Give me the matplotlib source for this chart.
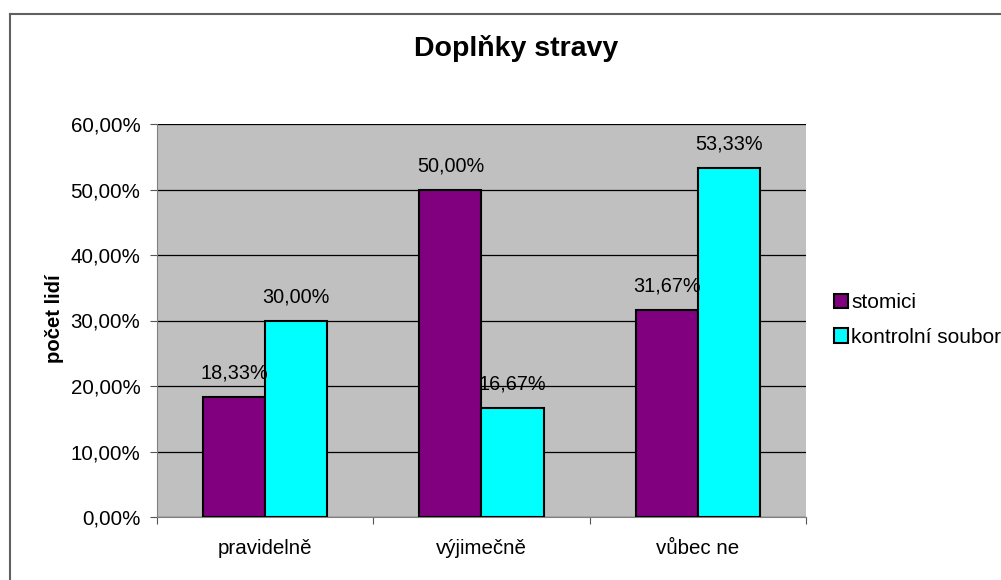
import matplotlib.pyplot as plt
import numpy as np
from matplotlib.patches import Patch
from matplotlib.lines import Line2D

# data
categories = ['pravidelně', 'výjimečně', 'vůbec ne']
stomici = [18.33, 50.00, 31.67]
kontrolni = [30.00, 16.67, 53.33]
series_names = ['stomici', 'kontrolní soubor']
colors = ['#800080', '#00FFFF']

plt.rcParams['font.family'] = ['Liberation Sans', 'DejaVu Sans']
FS = 14.8

fig = plt.figure(figsize=(10.01, 5.8), dpi=100)
ax = fig.add_axes([157 / 1001, 63 / 580, 649 / 1001, 393 / 580])
ax.set_facecolor('#C0C0C0')

x = np.arange(len(categories))
w = 0.287
b1 = ax.bar(x - w / 2, stomici, w, color=colors[0], edgecolor='black', linewidth=1.5, zorder=3)
b2 = ax.bar(x + w / 2, kontrolni, w, color=colors[1], edgecolor='black', linewidth=1.5, zorder=3)

#value labels above bars
for bars, vals in [(b1, stomici), (b2, kontrolni)]:
    for r, v in zip(bars, vals):
        ax.annotate(f"{v:.2f}%".replace('.', ','), (r.get_x() + r.get_width() / 2, v),
                    xytext=(0, 17), textcoords='offset points', ha='center', va='center',
                    fontsize=14.3, zorder=5)

ax.set_xlim(-0.5, 2.5)
ax.set_ylim(0, 60)
yt = np.arange(0, 61, 10)
ax.set_yticks(yt)
ax.set_yticklabels([f"{v:.2f}%".replace('.', ',') for v in yt], fontsize=FS)
ax.yaxis.grid(True, color='black', linewidth=0.9, zorder=1)
ax.set_axisbelow(True)

# category ticks sit between groups, labels at centres
ax.set_xticks([-0.5, 0.5, 1.5, 2.5])
ax.set_xticklabels([])
ax.set_xticks(x, minor=True)
ax.set_xticklabels(categories, minor=True, fontsize=FS)
ax.tick_params(axis='x', which='minor', length=0, pad=16)
ax.tick_params(axis='x', which='major', length=5, color='#555555')
ax.tick_params(axis='y', length=5, color='#555555', pad=7)

for s in ['top', 'right']:
    ax.spines[s].set_visible(False)
ax.spines['left'].set_color('#808080')
ax.spines['bottom'].set_color('#808080')

fig.text(54 / 1001, 1 - 319 / 580, 'počet lidí', rotation=90, ha='center', va='center',
         fontsize=14.6, fontweight='bold')
fig.text(516 / 1001, 1 - 48 / 580, 'Doplňky stravy', ha='center', va='center',
         fontsize=20.5, fontweight='bold')

handles = [Patch(facecolor=c, edgecolor='black', linewidth=1.5) for c in colors]
fig.legend(handles, series_names, loc='center left', bbox_to_anchor=(819 / 1001, 1 - 320 / 580),
           frameon=False, fontsize=15, handlelength=0.7, handleheight=0.7, handletextpad=0.15,
           labelspacing=0.75, borderpad=0.2)

# figure border: top and left edges only visible in the crop
fig.add_artist(Line2D([10 / 1001, 1], [1 - 14 / 580, 1 - 14 / 580], color='#606060', linewidth=1.5))
fig.add_artist(Line2D([10 / 1001, 10 / 1001], [0, 1 - 14 / 580], color='#606060', linewidth=1.5))

fig.savefig('out.png', dpi=100)
